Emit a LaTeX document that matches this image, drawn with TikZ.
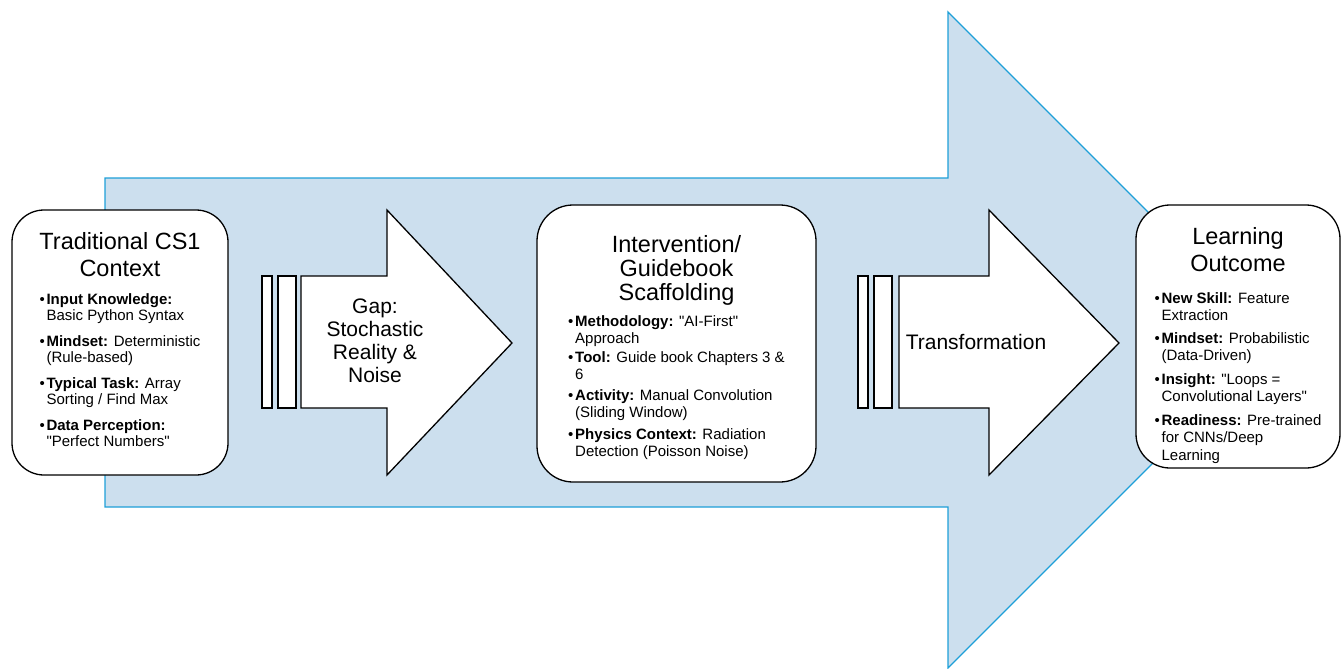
\documentclass[tikz,border=0pt]{standalone}
\usepackage{fontspec}
\setmainfont{Liberation Sans}[Ligatures=TeXOff]
\usepackage[usenames, dvipsnames]{xcolor}
\usetikzlibrary{positioning}

\definecolor{shaftfill}{HTML}{CCDFEE}
\definecolor{shaftline}{HTML}{1EA0D8}
\newcommand{\ttlsize}{\fontsize{23.5}{27}\selectfont}
\newcommand{\itmsize}{\fontsize{15}{16.5}\selectfont}
\newcommand{\itm}[1]{\makebox[7pt][l]{\textbullet}\textbf{#1}}
\newcommand{\cnt}{\hspace*{7pt}}

\begin{document}
\begin{tikzpicture}[x=1pt, y=-1pt,
    infobox/.style={draw, line width=1.3pt, fill=white, rounded corners=32pt},
    boxtitle/.style={font=\ttlsize, align=center, inner sep=0pt},
    bullets/.style={font=\itmsize, align=left, inner sep=0pt},
    midarrow/.style={draw, line width=1.3pt, fill=white},
    midtext/.style={font=\fontsize{21}{23}\selectfont, align=center, inner sep=0pt}]
    \useasboundingbox (0,0) rectangle (1342,669);
    \draw[fill=shaftfill, draw=shaftline, line width=1.3pt] (105,178) -- (948,178) -- (948,12) -- (1276,340) -- (948,668) -- (948,507) -- (105,507) -- cycle;

    \draw[midarrow] (262,276) rectangle (272,408);
    \draw[midarrow] (278,276) rectangle (296,408);
    \draw[midarrow] (301,276) -- (387,276) -- (387,210) -- (512,343) -- (387,475) -- (387,408) -- (301,408) -- cycle;
    \node[midtext] (gap) at (375,341) {Gap:\\Stochastic\\Reality \&\\Noise};

    \draw[midarrow] (858,276) rectangle (868,408);
    \draw[midarrow] (874,276) rectangle (892,408);
    \draw[midarrow] (899,276) -- (989,276) -- (989,210) -- (1119,343) -- (989,475) -- (989,408) -- (899,408) -- cycle;
    \node[midtext] (trans) at (976,342) {Transformation};

    \node[infobox, minimum width=216pt, minimum height=265pt] (ctx) at (120,342.5) {};
    \node[boxtitle, below=23pt of ctx.north] (ctxT) {Traditional CS1\\Context};
    \node[bullets, below=16pt of ctxT] (ctxB) {\itm{Input Knowledge:}\\ \cnt Basic Python Syntax\\[9pt]
        \itm{Mindset:} Deterministic\\ \cnt (Rule-based)\\[9pt]
        \itm{Typical Task:} Array\\ \cnt Sorting / Find Max\\[9pt]
        \itm{Data Perception:}\\ \cnt "Perfect Numbers"};

    \node[infobox, minimum width=279pt, minimum height=277pt, rounded corners=36pt] (guide) at (676.5,343.5) {};
    \node[boxtitle, font=\fontsize{23.5}{24}\selectfont, below=31pt of guide.north] (guideT) {Intervention/\\Guidebook\\Scaffolding};
    \node[bullets, below=10pt of guideT] (guideB) {\itm{Methodology:} "AI-First"\\ \cnt Approach\\[3pt]
        \itm{Tool:} Guide book Chapters 3 \&\\ \cnt 6\\[5pt]
        \itm{Activity:} Manual Convolution\\ \cnt (Sliding Window)\\[6pt]
        \itm{Physics Context:} Radiation\\ \cnt Detection (Poisson Noise)};

    \node[infobox, minimum width=204pt, minimum height=263pt, rounded corners=34pt] (out) at (1238,336.5) {};
    \node[boxtitle, below=23pt of out.north] (outT) {Learning\\Outcome};
    \node[bullets, font=\fontsize{15}{17.5}\selectfont, below=20pt of outT] (outB) {\itm{New Skill:} Feature\\ \cnt Extraction\\[5pt]
        \itm{Mindset:} Probabilistic\\ \cnt (Data-Driven)\\[6pt]
        \itm{Insight:} "Loops =\\ \cnt Convolutional Layers"\\[6pt]
        \itm{Readiness:} Pre-trained\\ \cnt for CNNs/Deep\\ \cnt Learning};
\end{tikzpicture}
\end{document}
